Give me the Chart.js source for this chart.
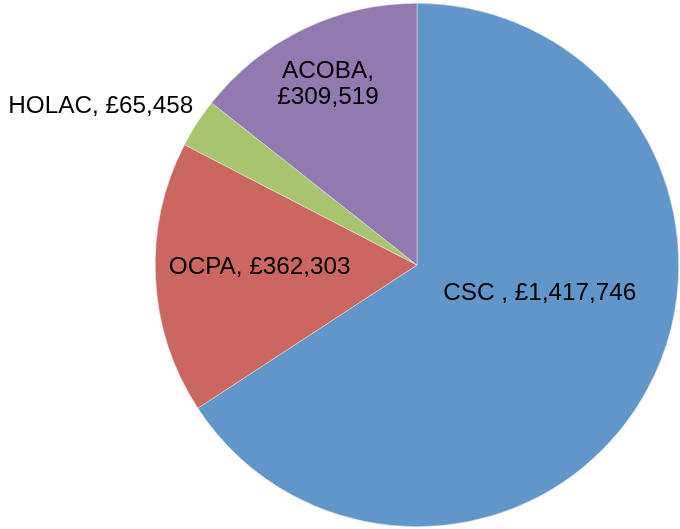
<!DOCTYPE html>
<html>
<head>
<meta charset="utf-8">
<script src="https://cdn.jsdelivr.net/npm/chart.js@4"></script>
<style>
  html, body { margin: 0; padding: 0; background: #fff; }
  #wrap { width: 680px; height: 529px; }
</style>
</head>
<body>
<div id="wrap"><canvas id="pie-chart-spend"></canvas></div>
<script>
// data
var categories = ['CSC ', 'OCPA', 'HOLAC', 'ACOBA'];
var spendValues = [1417746, 362303, 65458, 309519];
var sliceColours = ['#6096ca', '#cc6660', '#a9c46e', '#927ab0'];

// where each label sits, as a fraction of the radius from the centre
var labelOffsets = [[0.469, 0.107], [-0.601, 0.008], [-1.208, -0.607], [-0.340, -0.691]];
var labelWrap = [false, false, false, true];

function fmtMoney(v) {
    return '£' + v.toString().replace(/\B(?=(\d{3})+(?!\d))/g, ',');
}

var pieLabels = {
    id: 'pieLabels',
    afterDatasetsDraw: function (chart) {
        var ctx = chart.ctx;
        var meta = chart.getDatasetMeta(0);
        ctx.save();
        ctx.font = '24.3px "Liberation Sans", Arial, sans-serif';
        ctx.fillStyle = '#000';
        ctx.textAlign = 'center';
        ctx.textBaseline = 'middle';
        for (var i = 0; i < meta.data.length; i++) {
            var arc = meta.data[i];
            var r = arc.outerRadius;
            var x = arc.x + labelOffsets[i][0] * r;
            var y = arc.y + labelOffsets[i][1] * r;
            var name = categories[i] + ',';
            var val = fmtMoney(spendValues[i]);
            if (labelWrap[i]) {
                ctx.fillText(name, x, y - 13);
                ctx.fillText(val, x, y + 13);
            } else {
                ctx.fillText(name + ' ' + val, x, y);
            }
        }
        ctx.restore();
    }
};

var pieChartSpend = new Chart(document.getElementById('pie-chart-spend').getContext('2d'), {
    type: 'pie',
    data: {
        labels: categories,
        datasets: [{
            data: spendValues,
            backgroundColor: sliceColours,
            borderColor: '#e8e8e8',
            borderWidth: 0.5
        }]
    },
    options: {
        responsive: true,
        maintainAspectRatio: false,
        animation: false,
        layout: { padding: { left: 154, right: 0, top: 3, bottom: 2 } },
        plugins: {
            legend: { display: false },
            tooltip: { enabled: false }
        }
    },
    plugins: [pieLabels]
});
</script>
</body>
</html>
